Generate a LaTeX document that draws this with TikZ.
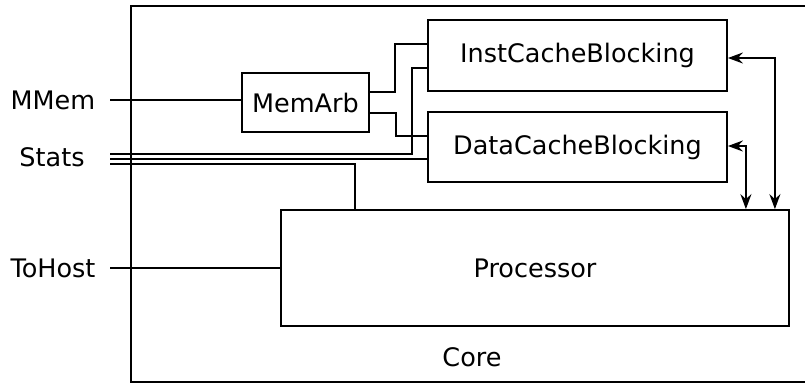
\documentclass[tikz,border=0pt]{standalone}
\usepackage{fontspec}
\setmainfont{DejaVu Sans}
\usetikzlibrary{arrows.meta,calc}
\begin{document}
\begin{tikzpicture}[x=1pt,y=-1pt,line width=1.8pt,
  font=\fontsize{25.5}{30}\selectfont,
  box/.style={draw,rectangle,inner sep=0pt},
  lbl/.style={inner sep=0pt},
  biarrow/.style={{Stealth[length=15pt,width=11pt,inset=5pt]}-{Stealth[length=15pt,width=11pt,inset=5pt]}}]
\useasboundingbox (0,0) rectangle (805,384);
% core
\node[box,minimum width=677pt,minimum height=376pt] (core) at (469.5,194) {};
\node[lbl] (corelbl) at (472,357) {Core};
% blocks
\node[box,minimum width=127pt,minimum height=59pt] (arb) at (305.5,102.5) {MemArb};
\node[box,minimum width=299pt,minimum height=71pt] (inst) at (577.5,55.5) {InstCacheBlocking};
\node[box,minimum width=299pt,minimum height=70pt] (data) at (577.5,147) {DataCacheBlocking};
\node[box,minimum width=508pt,minimum height=116pt] (proc) at (535,268) {Processor};
% side labels
\node[lbl] (mmem) at (53,100) {MMem};
\node[lbl] (stats) at (52,157) {Stats};
\node[lbl] (tohost) at (53,268) {ToHost};
\coordinate (m0) at (110,100);
\coordinate (s1) at (110,154);
\coordinate (s2) at (110,159);
\coordinate (s3) at (110,164);
\coordinate (t0) at (110,268);
% connectors
\draw (m0) -- (m0 -| arb.west);
\draw (t0) -- (proc.west);
\draw ($(arb.east)+(0,-10.5)$) -| (395,44) -- ($(inst.west)+(0,-11.5)$);
\draw ($(arb.east)+(0,10.5)$) -| (396,136) -- ($(data.west)+(0,-11)$);
\draw (s1) -| (412,68) -- ($(inst.west)+(0,12.5)$);
\draw (s2) -- ($(data.west)+(0,12)$);
\draw (s3) -| ($(proc.north west)+(75,0)$);
\draw[biarrow] ($(inst.east)+(0,2.5)$) -| ($(proc.north east)+(-15,0)$);
\draw[biarrow] ($(data.east)+(0,-1)$) -| ($(proc.north east)+(-44,0)$);
\end{tikzpicture}
\end{document}
